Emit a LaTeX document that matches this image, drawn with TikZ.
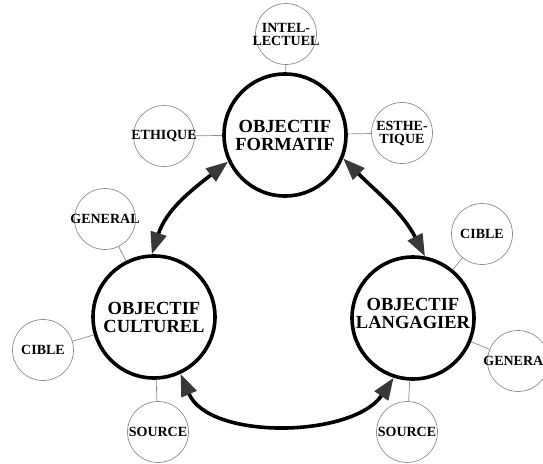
\documentclass[tikz,border=0pt]{standalone}
\usepackage{fontspec}
\setmainfont{Liberation Serif}
\usetikzlibrary{arrows.meta}
\newcommand{\objfont}{\fontsize{18.5}{18}\selectfont\bfseries}
\newcommand{\satfont}{\fontsize{14}{13}\selectfont\bfseries}
\begin{document}
\begin{tikzpicture}[x=1pt, y=1pt,
    obj/.style={circle, draw, line width=3.6pt, minimum size=122pt, inner sep=0pt, align=center, font=\objfont},
    sat/.style={circle, draw=black!45, line width=0.7pt, minimum size=61pt, inner sep=-6pt, align=center, font=\satfont},
    link/.style={draw=black!45, line width=0.7pt},
    rel/.style={line width=3.6pt, {Triangle[length=22pt,width=16pt,color=black!78]}-{Triangle[length=22pt,width=16pt,color=black!78]}}]
    \useasboundingbox (0,0) rectangle (543,-463);
    \node[obj] (form) at (285,-135) {OBJECTIF\\FORMATIF};
    \node[obj] (cult) at (154,-317) {OBJECTIF\\CULTUREL};
    \node[obj, text depth=10pt] (lang) at (413,-318) {OBJECTIF\\LANGAGIER};
    \node[sat] (fint) at (286,-34) {INTEL-\\LECTUEL};
    \node[sat] (feth) at (164,-136) {ETHIQUE};
    \node[sat] (fest) at (402,-133) {ESTHE-\\TIQUE};
    \node[sat] (cgen) at (105,-219) {GENERAL};
    \node[sat] (ccib) at (43,-350) {CIBLE};
    \node[sat] (csrc) at (158,-432) {SOURCE};
    \node[sat] (lcib) at (482,-234) {CIBLE};
    \node[sat] (lgen) at (518,-361) {GENERAL};
    \node[sat] (lsrc) at (407,-432) {SOURCE};
    \draw[link] (form) -- (fint);
    \draw[link] (form) -- (feth);
    \draw[link] (form) -- (fest);
    \draw[link] (cult) -- (cgen);
    \draw[link] (cult) -- (ccib);
    \draw[link] (cult) -- (csrc);
    \draw[link] (lang) -- (lcib);
    \draw[link] (lang) -- (lgen);
    \draw[link] (lang) -- (lsrc);
    \draw[rel] (form.205) to[out=218, in=72] (cult.92);
    \draw[rel] (form.338) to[out=315, in=117] (lang.79);
    \draw[rel] (cult.295) to[out=293, in=236, looseness=0.87] (lang.252);
\end{tikzpicture}
\end{document}
